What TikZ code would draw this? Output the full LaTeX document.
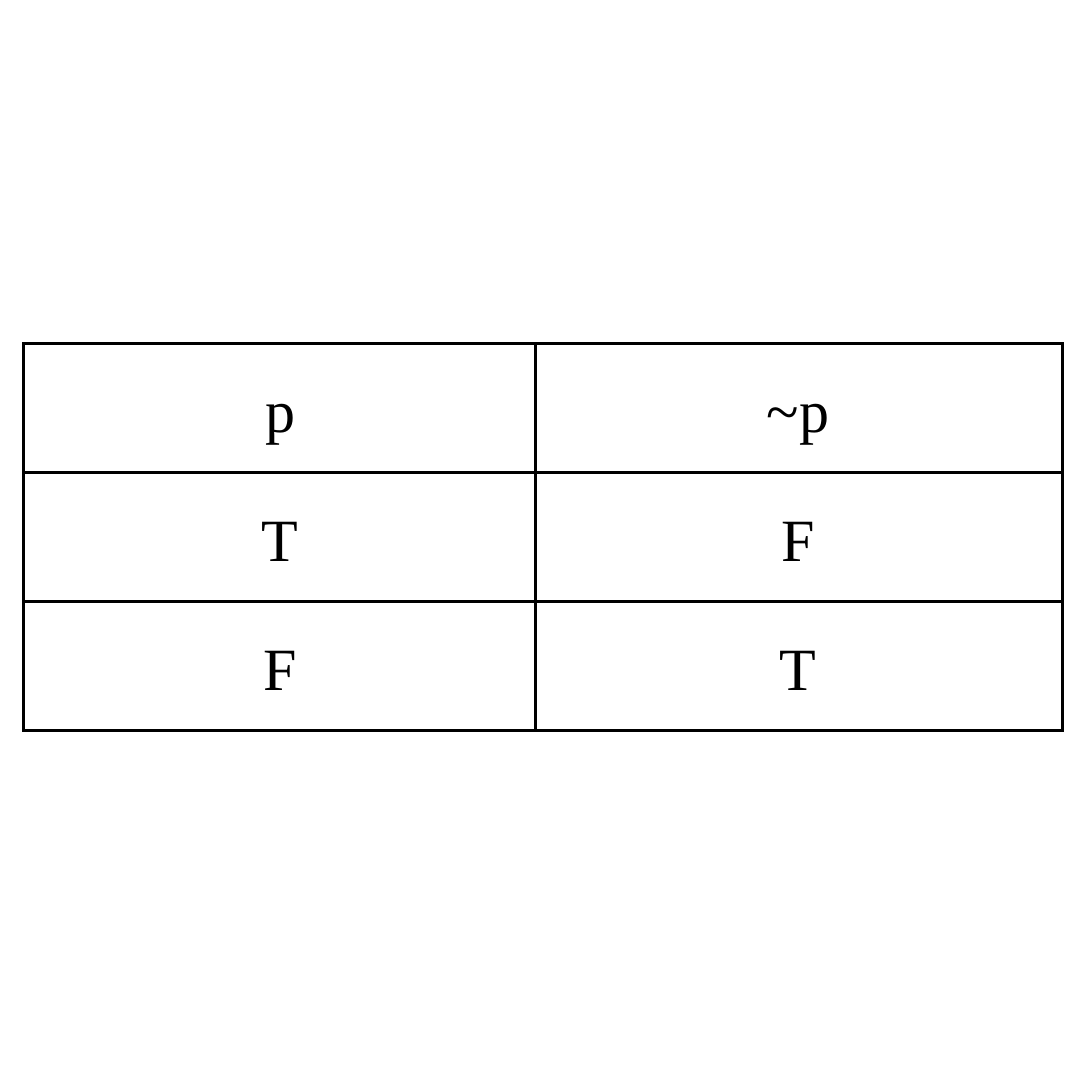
\documentclass[tikz,border=0pt]{standalone}
\usepackage{fontspec}
\setmainfont{Liberation Serif}
\begin{document}
\begin{tikzpicture}[x=1pt,y=-1pt,
  gridline/.style={line width=3pt, black},
  cell/.style={anchor=base, inner sep=0pt, font=\fontsize{60}{72}\selectfont}]
\useasboundingbox (0,0) rectangle (1080,1080);
\draw[gridline] (23,343) rectangle (1062,730);
\draw[gridline] (535,343) -- (535,730);
\draw[gridline] (23,472) -- (1062,472);
\draw[gridline] (23,601) -- (1062,601);
\node[cell] (h1) at (280,432) {p};
\node[cell] (h2) at (798,432) {\textasciitilde p};
\node[cell] (a1) at (280,561) {T};
\node[cell] (a2) at (798,561) {F};
\node[cell] (b1) at (280,690) {F};
\node[cell] (b2) at (798,690) {T};
\end{tikzpicture}
\end{document}
